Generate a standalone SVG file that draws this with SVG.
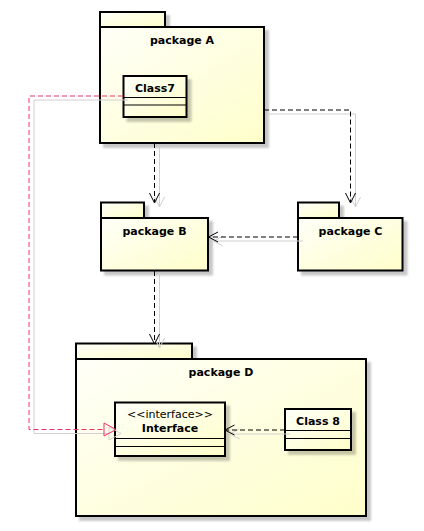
<svg xmlns="http://www.w3.org/2000/svg" width="424" height="531" viewBox="0 0 424 531">
<defs>
<linearGradient id="g" x1="0" y1="0" x2="1" y2="1">
<stop offset="0" stop-color="#FFFFF8"/>
<stop offset="1" stop-color="#FEFECA"/>
</linearGradient>
<filter id="sh" x="-10%" y="-10%" width="130%" height="130%">
<feGaussianBlur in="SourceAlpha" stdDeviation="1.2" result="b"/>
<feOffset in="b" dx="4" dy="4" result="o"/>
<feComponentTransfer in="o" result="c"><feFuncA type="linear" slope="0.22"/></feComponentTransfer>
<feMerge><feMergeNode in="c"/><feMergeNode in="SourceGraphic"/></feMerge>
</filter>
</defs>
<style>
.box{fill:url(#g);stroke:#000;stroke-width:2}
.sep{stroke:#000;stroke-width:1}
.t{font-family:"DejaVu Sans",sans-serif;font-size:11px;fill:#000;text-anchor:middle}
.b{font-weight:bold}
.dash{fill:none;stroke:#000;stroke-width:1;stroke-dasharray:5,3}
.red{fill:none;stroke:#F0306A;stroke-width:1;stroke-dasharray:5,3}
.shl{fill:none;stroke:#D0D0D0;stroke-width:1}
.arr{fill:none;stroke:#000;stroke-width:1}
</style>
<g id="packageA">
<g filter="url(#sh)">
<rect class="box" x="100" y="12" width="65" height="15"/>
<rect class="box" x="100" y="27" width="164" height="116"/>
</g>
<text class="t b" x="182" y="44">package A</text>
</g>
<g id="Class7">
<rect class="box" x="123.5" y="76" width="63" height="41" filter="url(#sh)"/>
<line class="sep" x1="123.5" y1="97.5" x2="186.5" y2="97.5"/>
<line class="sep" x1="123.5" y1="105" x2="186.5" y2="105"/>
<text class="t b" x="155" y="92">Class7</text>
</g>
<g id="packageB">
<g filter="url(#sh)">
<rect class="box" x="101" y="202.5" width="43" height="15.5"/>
<rect class="box" x="101" y="218" width="107" height="52.5"/>
</g>
<text class="t b" x="154.5" y="235">package B</text>
</g>
<g id="packageC">
<g filter="url(#sh)">
<rect class="box" x="298" y="202.5" width="41" height="15.5"/>
<rect class="box" x="298" y="218" width="104.5" height="52.5"/>
</g>
<text class="t b" x="350.5" y="235">package C</text>
</g>
<g id="packageD">
<g filter="url(#sh)">
<rect class="box" x="76" y="343.5" width="116" height="15.5"/>
<rect class="box" x="76" y="359" width="290" height="157"/>
</g>
<text class="t b" x="221" y="376">package D</text>
</g>
<g id="Interface">
<rect class="box" x="115" y="402.5" width="110" height="53.5" filter="url(#sh)"/>
<line class="sep" x1="115" y1="438.5" x2="225" y2="438.5"/>
<line class="sep" x1="115" y1="446.5" x2="225" y2="446.5"/>
<text class="t" x="170" y="418">&lt;&lt;interface&gt;&gt;</text>
<text class="t b" x="170" y="431.5">Interface</text>
</g>
<g id="Class8">
<rect class="box" x="285" y="409" width="66" height="41" filter="url(#sh)"/>
<line class="sep" x1="285" y1="430.5" x2="351" y2="430.5"/>
<line class="sep" x1="285" y1="438.5" x2="351" y2="438.5"/>
<text class="t b" x="318" y="425">Class 8</text>
</g>
<g id="connectors">
<!-- shadows -->
<g transform="translate(5,4)">
<polyline class="shl" points="123,96 29,96 29,429.5 104,429.5"/>
<polygon class="shl" points="104,423 116,429.5 104,436"/>
<polyline class="shl" points="154.5,143 154.5,202"/>
<polyline class="shl" points="149.5,193 154.5,203 159.5,193"/>
<polyline class="shl" points="264,110 350.5,110 350.5,202"/>
<polyline class="shl" points="345.5,193 350.5,203 355.5,193"/>
<polyline class="shl" points="298,237 209,237"/>
<polyline class="shl" points="218,232 208.5,237 218,242"/>
<polyline class="shl" points="154.5,271 154.5,343"/>
<polyline class="shl" points="149.5,334 154.5,344 159.5,334"/>
<polyline class="shl" points="285,430 226,430"/>
<polyline class="shl" points="234.5,425 225,430 234.5,435"/>
</g>
<!-- realization -->
<polyline class="red" points="123,96 29,96 29,429.5 104,429.5"/>
<polygon points="104,423 116,429.5 104,436" fill="none" stroke="#F0306A" stroke-width="1"/>
<!-- A to B -->
<line class="dash" x1="154.5" y1="143" x2="154.5" y2="202"/>
<polyline class="arr" points="149.5,193 154.5,203 159.5,193"/>
<!-- A to C -->
<polyline class="dash" points="264,110 350.5,110 350.5,202"/>
<polyline class="arr" points="345.5,193 350.5,203 355.5,193"/>
<!-- C to B -->
<line class="dash" x1="298" y1="237" x2="209" y2="237"/>
<polyline class="arr" points="218,232 208.5,237 218,242"/>
<!-- B to D -->
<line class="dash" x1="154.5" y1="271" x2="154.5" y2="343"/>
<polyline class="arr" points="149.5,334 154.5,344 159.5,334"/>
<!-- Class8 to Interface -->
<line class="dash" x1="285" y1="430" x2="226" y2="430"/>
<polyline class="arr" points="234.5,425 225,430 234.5,435"/>
</g>
</svg>
